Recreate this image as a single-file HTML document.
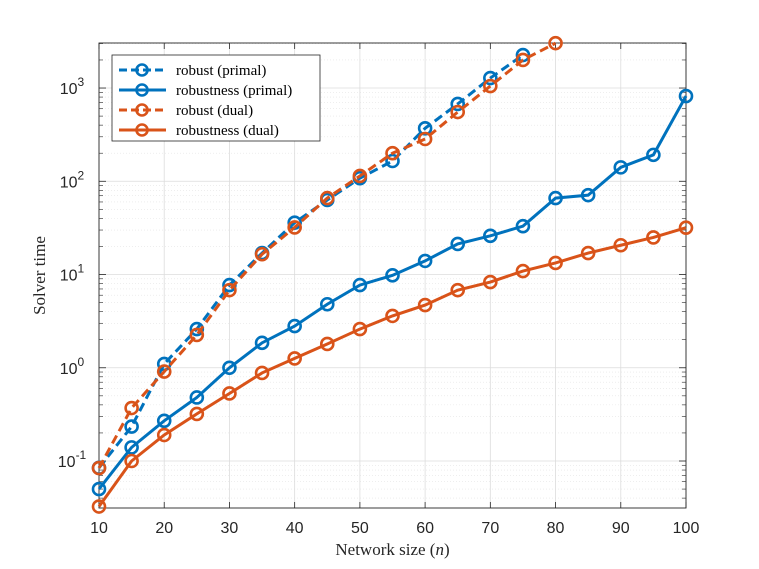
<!DOCTYPE html>
<html><head><meta charset="utf-8"><style>
body{margin:0;background:#fff}
svg{display:block}
.tk{font-family:"Liberation Sans",sans-serif;font-size:16px;fill:#262626}
.lab{font-family:"Liberation Serif",serif;font-size:17px;fill:#262626}
.lg{font-family:"Liberation Serif",serif;font-size:15px;fill:#000}
</style></head><body>
<svg id="chart" width="759" height="569"></svg>
<script>
const sizes=[10,15,20,25,30,35,40,45,50,55,60,65,70,75,80,85,90,95,100];
const robustPrimal=[0.0845,0.234,1.1,2.6,7.7,17,36,63,108,165,370,675,1280,2260];
const robustnessPrimal=[0.05,0.14,0.27,0.48,1.0,1.85,2.8,4.8,7.7,9.8,14,21.3,26,33,66,71,141,192,820];
const robustDual=[0.084,0.37,0.91,2.25,6.8,16.5,32,66,114,200,284,553,1050,2000,3030];
const robustnessDual=[0.0325,0.1,0.19,0.32,0.53,0.88,1.26,1.8,2.6,3.6,4.7,6.8,8.3,10.9,13.3,17,20.6,25,31.8];
const xTicks=[10,20,30,40,50,60,70,80,90,100];
const yDecades=[-1,0,1,2,3];
const L=99,R=686,T=43,B=508;
const yMinLog=-1.504,yMaxLog=3.483;
const X=v=>L+(v-10)/90*(R-L);
const Y=v=>B-(Math.log10(v)-yMinLog)/(yMaxLog-yMinLog)*(B-T);
const NS="http://www.w3.org/2000/svg";
const svg=document.getElementById('chart');
function mk(t,a,p){const e=document.createElementNS(NS,t);for(const k in a)e.setAttribute(k,a[k]);(p||svg).appendChild(e);return e;}
const bg=mk('rect',{x:L,y:T,width:R-L,height:B-T,fill:'#fff'});


for(let d=-2;d<=3;d++){for(let m=2;m<=9;m++){const v=m*Math.pow(10,d);const y=Y(v);if(y<T||y>B)continue;
const g=mk('line',{x1:L,x2:R,y1:y,y2:y,stroke:'#e3e3e3','stroke-width':0.6,'stroke-dasharray':'1,2'});


mk('line',{x1:L,x2:L+4,y1:y,y2:y,stroke:'#262626','stroke-width':0.6});
mk('line',{x1:R,x2:R-4,y1:y,y2:y,stroke:'#262626','stroke-width':0.6});}}
xTicks.forEach(v=>{const x=X(v);
const g=mk('line',{x1:x,x2:x,y1:T,y2:B,stroke:'#dcdcdc','stroke-width':0.8});


mk('line',{x1:x,x2:x,y1:B,y2:B-6,stroke:'#262626','stroke-width':0.8});
mk('line',{x1:x,x2:x,y1:T,y2:T+6,stroke:'#262626','stroke-width':0.8});
const t=mk('text',{x:x,y:B+25,'text-anchor':'middle',class:'tk'});t.textContent=v;

});
yDecades.forEach(d=>{const y=Y(Math.pow(10,d));
const g=mk('line',{x1:L,x2:R,y1:y,y2:y,stroke:'#dcdcdc','stroke-width':0.8});


mk('line',{x1:L,x2:L+7,y1:y,y2:y,stroke:'#262626','stroke-width':0.8});
mk('line',{x1:R,x2:R-7,y1:y,y2:y,stroke:'#262626','stroke-width':0.8});
const t=mk('text',{x:L-27,y:y+6,'text-anchor':'middle',class:'tk'});t.textContent='10';
const s=mk('tspan',{dy:-8,'font-size':12},t);s.textContent=d;

});
const fr=mk('rect',{x:L,y:T,width:R-L,height:B-T,fill:'none',stroke:'#262626','stroke-width':0.9});


const series=[
 {d:robustPrimal,c:'#0072BD',dash:'9,5',n:'robust-primal-series'},
 {d:robustnessPrimal,c:'#0072BD',dash:'',n:'robustness-primal-series'},
 {d:robustDual,c:'#D95319',dash:'9,5',n:'robust-dual-series'},
 {d:robustnessDual,c:'#D95319',dash:'',n:'robustness-dual-series'}];
series.forEach(s=>{const g=mk('g',{});


const pts=s.d.map((v,i)=>X(sizes[i])+','+Y(v)).join(' ');
mk('polyline',{points:pts,fill:'none',stroke:s.c,'stroke-width':3,'stroke-dasharray':s.dash},g);
s.d.forEach((v,i)=>{const c=mk('circle',{cx:X(sizes[i]),cy:Y(v),r:6,fill:'none',stroke:s.c,'stroke-width':2.6},g);

});});
const lg=mk('g',{});


mk('rect',{x:112,y:55,width:208,height:86,fill:'#fff',stroke:'#262626','stroke-width':0.8},lg);
const names=['robust (primal)','robustness (primal)','robust (dual)','robustness (dual)'];
series.forEach((s,i)=>{const y=70+i*20;
const e=mk('g',{},lg);


mk('line',{x1:119,x2:166,y1:y,y2:y,stroke:s.c,'stroke-width':3,'stroke-dasharray':s.dash?'8,4':''},e);
mk('circle',{cx:142,cy:y,r:5.5,fill:'none',stroke:s.c,'stroke-width':2.6},e);
const t=mk('text',{x:176,y:y+5,class:'lg'},e);t.textContent=names[i];});
const xt=mk('text',{x:(L+R)/2,y:555,'text-anchor':'middle',class:'lab'});xt.textContent='Network size (';
const it=mk('tspan',{'font-style':'italic'},xt);it.textContent='n';
const cl=mk('tspan',{},xt);cl.textContent=')';


const yt=mk('text',{x:0,y:0,'text-anchor':'middle',class:'lab',transform:`translate(45,${(T+B)/2}) rotate(-90)`});yt.textContent='Solver time';


</script>
</body></html>
